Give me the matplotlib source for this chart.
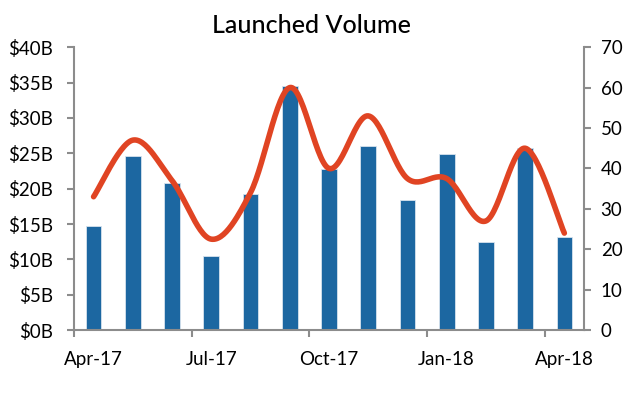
import numpy as np
import matplotlib
matplotlib.use("Agg")
import matplotlib.pyplot as plt
from matplotlib.ticker import FuncFormatter

months = ["Apr-17", "May-17", "Jun-17", "Jul-17", "Aug-17", "Sep-17", "Oct-17",
          "Nov-17", "Dec-17", "Jan-18", "Feb-18", "Mar-18", "Apr-18"]
volume_b = [14.7, 24.6, 20.8, 10.5, 19.3, 34.5, 22.8, 26.0, 18.4, 24.9, 12.5, 25.8, 13.2]
deal_count = [33, 47, 37, 22.5, 34, 60, 40, 53, 37.5, 37.5, 27, 45, 24]
tick_labels = ["Apr-17", "Jul-17", "Oct-17", "Jan-18", "Apr-18"]

plt.rcParams['font.family'] = ['Lato', 'DejaVu Sans']

bar_color = "#1C67A1"
line_color = "#E04423"
spine_color = "#8C8C8C"

fig = plt.figure(figsize=(6.29, 3.93), dpi=100)
ax = fig.add_axes([0.1176, 0.160, 0.8108, 0.720])
ax2 = ax.twinx()

x = np.arange(len(months)) + 0.5
ax.bar(x, volume_b, width=0.40, color=bar_color, edgecolor="#D7E3EE", linewidth=0.6, zorder=2)

# Smooth line (Excel-style Bezier through the points)
def smooth(xs, ys, n=30):
    xs = np.asarray(xs, float); ys = np.asarray(ys, float)
    px = np.concatenate([[xs[0]], xs, [xs[-1]]])
    py = np.concatenate([[ys[0]], ys, [ys[-1]]])
    ox, oy = [], []
    t = np.linspace(0, 1, n)
    for i in range(1, len(px) - 2):
        p0 = np.array([px[i], py[i]]); p3 = np.array([px[i + 1], py[i + 1]])
        c1 = p0 + (np.array([px[i + 1], py[i + 1]]) - np.array([px[i - 1], py[i - 1]])) / 6
        c2 = p3 - (np.array([px[i + 2], py[i + 2]]) - np.array([px[i], py[i]])) / 6
        b = ((1 - t) ** 3)[:, None] * p0 + (3 * (1 - t) ** 2 * t)[:, None] * c1 \
            + (3 * (1 - t) * t ** 2)[:, None] * c2 + (t ** 3)[:, None] * p3
        ox.extend(b[:, 0]); oy.extend(b[:, 1])
    return np.array(ox), np.array(oy)

sx, sy = smooth(x, deal_count)
ax2.plot(sx, sy, color=line_color, linewidth=4, solid_capstyle="round", zorder=3)

ax.set_xlim(0, len(months))
ax.set_ylim(0, 40)
ax2.set_ylim(0, 70)
ax.set_yticks(np.arange(0, 41, 5))
ax.yaxis.set_major_formatter(FuncFormatter(lambda v, p: f"${int(v)}B"))
ax2.set_yticks(np.arange(0, 71, 10))
# labels centred on the months, tick marks on the month boundaries
ax.set_xticks(x[::3])
ax.set_xticklabels(tick_labels)
ax.set_xticks(x[::3] - 0.5, minor=True)

for a in (ax, ax2):
    a.spines["top"].set_visible(False)
    for s in ("left", "right", "bottom"):
        a.spines[s].set_color(spine_color)
        a.spines[s].set_linewidth(1.5)
ax.spines["right"].set_visible(False)
ax2.spines["left"].set_visible(False)
ax2.spines["bottom"].set_visible(False)

ax.tick_params(axis="both", colors=spine_color, labelcolor="black", labelsize=13.5,
               length=5, width=1.5, direction="out")
ax.tick_params(axis="x", which="major", length=0, pad=15)
ax.tick_params(axis="x", which="minor", length=5, width=1.5, color=spine_color)
ax.tick_params(axis="y", pad=10)
ax2.tick_params(axis="y", colors=spine_color, labelcolor="black", labelsize=13.5,
                length=5, width=1.5, direction="out", pad=7)
ax.set_zorder(1); ax2.set_zorder(2)

fig.text(0.495, 0.935, "Launched Volume", ha="center", va="center", fontsize=18, fontweight="medium")

fig.savefig("out.png", dpi=100)
